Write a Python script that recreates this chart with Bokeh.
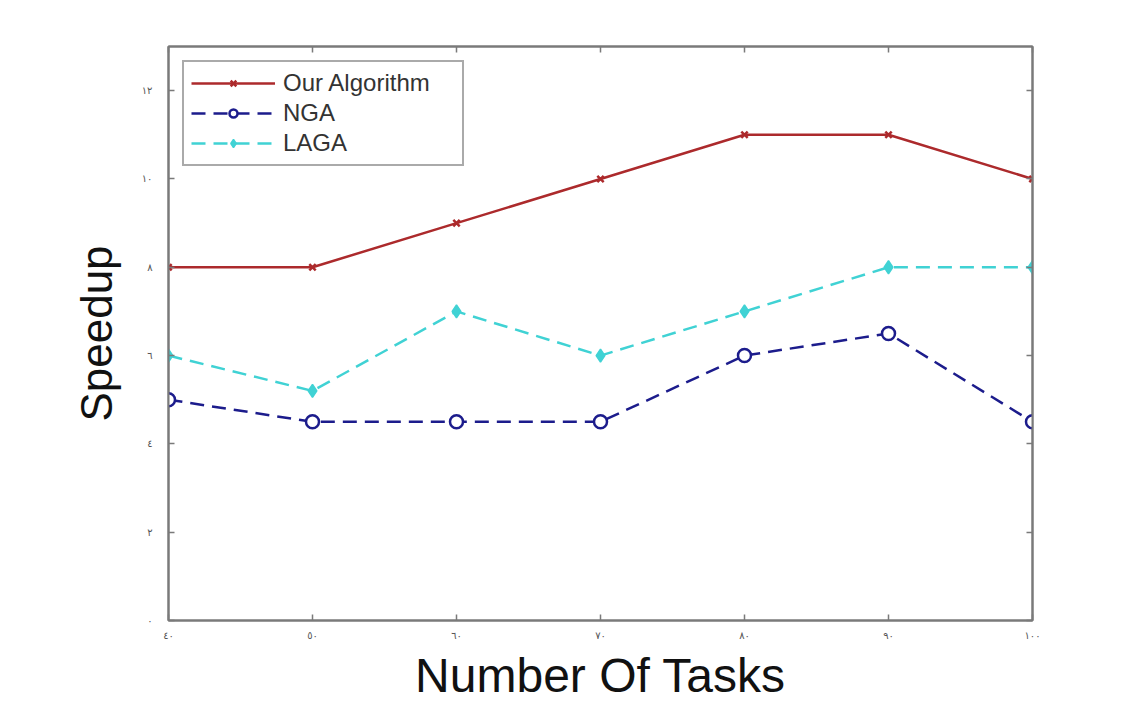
from bokeh.plotting import figure
from bokeh.models import LinearAxis, Range1d, FixedTicker, Legend, CustomLabelingPolicy
from bokeh.embed import file_html
from bokeh.resources import INLINE

# ---- data ----
tasks = [40, 50, 60, 70, 80, 90, 100]
our_algorithm = [8, 8, 9, 10, 11, 11, 10]
nga = [5.0, 4.5, 4.5, 4.5, 6.0, 6.5, 4.5]
laga = [6.0, 5.2, 7.0, 6.0, 7.0, 8.0, 8.0]

x_ticks = [40, 50, 60, 70, 80, 90, 100]
x_tick_labels = ["٤٠", "٥٠", "٦٠", "٧٠", "٨٠", "٩٠", "١٠٠"]
y_ticks = [0, 2, 4, 6, 8, 10, 12]
y_tick_labels = ["٠", "٢", "٤", "٦", "٨", "١٠", "١٢"]

RED = "#AC2A2C"
NAVY = "#1C1C8C"
CYAN = "#40D2D4"
AXIS = "#7a7a7a"
FONT = "Liberation Sans"

p = figure(width=1107, height=705, output_backend="svg", toolbar_location=None,
           x_range=Range1d(40, 100), y_range=Range1d(0, 13),
           min_border_left=168, min_border_right=75, min_border_top=46, min_border_bottom=85,
           x_axis_label="Number Of Tasks", y_axis_label="Speedup")
p.grid.visible = False
p.outline_line_color = AXIS
p.outline_line_width = 2
p.background_fill_color = "white"
p.border_fill_color = "white"

for ax in (p.xaxis[0], p.yaxis[0]):
    ax.axis_line_color = AXIS
    ax.axis_line_width = 2
    ax.major_tick_line_color = AXIS
    ax.major_tick_line_width = 1.5
    ax.major_tick_in = 6
    ax.major_tick_out = 0
    ax.minor_tick_line_color = None
    ax.major_label_text_font = "DejaVu Sans"
    ax.major_label_text_font_size = "10px"
    ax.major_label_text_color = "#555555"
    ax.axis_label_text_font = FONT
    ax.axis_label_text_font_style = "normal"
    ax.axis_label_text_color = "#111111"

p.xaxis[0].ticker = FixedTicker(ticks=x_ticks)
p.xaxis[0].major_label_overrides = dict(zip(x_ticks, x_tick_labels))
p.xaxis[0].major_label_standoff = 9
p.xaxis[0].axis_label_standoff = 5
p.xaxis[0].axis_label_text_font_size = "48px"

p.yaxis[0].ticker = FixedTicker(ticks=y_ticks)
p.yaxis[0].major_label_overrides = dict(zip(y_ticks, y_tick_labels))
p.yaxis[0].major_label_standoff = 16
p.yaxis[0].axis_label_standoff = 18
p.yaxis[0].axis_label_text_font_size = "44px"

# mirrored axes (ticks only, no labels)
no_labels = CustomLabelingPolicy(code="""
    for (const i of Array.from(indices)) indices.unset(i)
    return indices
""")
no_labels2 = CustomLabelingPolicy(code="""
    for (const i of Array.from(indices)) indices.unset(i)
    return indices
""")
top = LinearAxis(ticker=FixedTicker(ticks=x_ticks), major_label_policy=no_labels,
                 axis_line_color=AXIS, axis_line_width=2, major_tick_line_color=AXIS,
                 major_tick_line_width=1.5, major_tick_in=6, major_tick_out=0,
                 minor_tick_line_color=None, major_label_standoff=0)
right = LinearAxis(ticker=FixedTicker(ticks=y_ticks), major_label_policy=no_labels2,
                   axis_line_color=AXIS, axis_line_width=2, major_tick_line_color=AXIS,
                   major_tick_line_width=1.5, major_tick_in=6, major_tick_out=0,
                   minor_tick_line_color=None, major_label_standoff=0)
p.add_layout(top, "above")
p.add_layout(right, "right")

r1l = p.line(tasks, our_algorithm, line_color=RED, line_width=2.5)
r1m = p.scatter(tasks, our_algorithm, marker="x", size=9, line_color=RED, line_width=2.5)
r2l = p.line(tasks, nga, line_color=NAVY, line_width=2.5, line_dash="14 8")
r2m = p.scatter(tasks, nga, marker="circle", size=13, line_color=NAVY, line_width=2.5,
                fill_color="white")
r3l = p.line(tasks, laga, line_color=CYAN, line_width=2.5, line_dash="14 8")
r3m = p.scatter(tasks, laga, marker="diamond", size=13, line_color=CYAN, line_width=1.5,
                fill_color=CYAN)

legend = Legend(items=[("Our Algorithm", [r1l, r1m]), ("NGA", [r2l, r2m]), ("LAGA", [r3l, r3m])],
                location="top_left")
legend.margin = 14
legend.padding = 7
legend.spacing = 2
legend.glyph_width = 84
legend.glyph_height = 20
legend.label_height = 20
legend.label_width = 172
legend.label_standoff = 8
legend.label_text_font = FONT
legend.label_text_font_size = "24px"
legend.label_text_color = "#333333"
legend.border_line_color = "#555555"
legend.border_line_width = 2
legend.background_fill_color = "white"
legend.background_fill_alpha = 1
p.add_layout(legend, "center")

open("out.html", "w").write(file_html(p, INLINE))
